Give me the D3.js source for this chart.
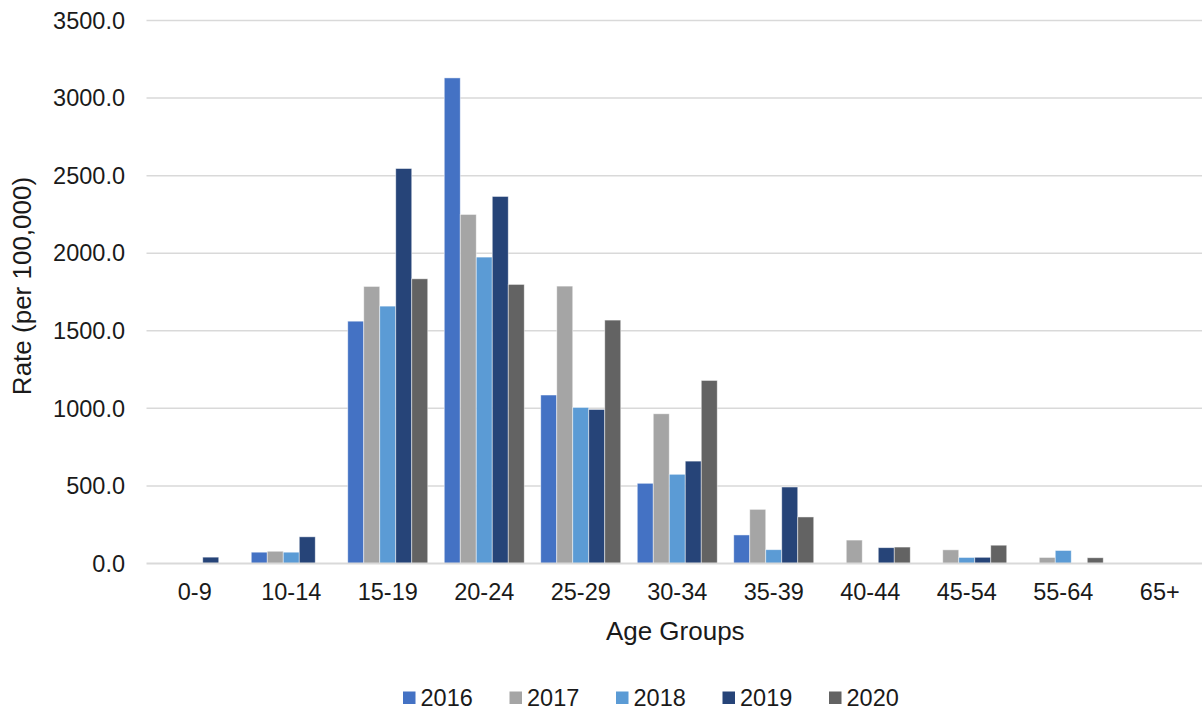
<!DOCTYPE html>
<html>
<head>
<meta charset="utf-8">
<script src="https://cdn.jsdelivr.net/npm/d3@7"></script>
<style>
  html, body { margin: 0; padding: 0; background: #fff; }
  svg { display: block; font-family: "Liberation Sans", Arial, sans-serif; }
</style>
</head>
<body>
<svg id="chart" width="1202" height="710"></svg>
<script>
const categories = ["0-9", "10-14", "15-19", "20-24", "25-29", "30-34", "35-39", "40-44", "45-54", "55-64", "65+"];
const years = ["2016", "2017", "2018", "2019", "2020"];
const colors = ["#4472C4", "#A5A5A5", "#5B9BD5", "#264478", "#636363"];
const yTicks = [0, 500, 1000, 1500, 2000, 2500, 3000, 3500];

const values2016 = [null, 73, 1562, 3130, 1086, 517, 184, null, null, null, null];
const values2017 = [null, 79, 1786, 2250, 1788, 965, 349, 151, 88, 39, null];
const values2018 = [null, 73, 1659, 1975, 1006, 575, 89, null, 39, 84, null];
const values2019 = [41, 172, 2546, 2366, 993, 660, 493, 102, 40, null, null];
const values2020 = [null, null, 1835, 1799, 1569, 1180, 300, 106, 118, 37, null];
const series = [values2016, values2017, values2018, values2019, values2020];

(function () {
const svg = d3.select("#chart");
const pLeft = 146.5, pRight = 1208, pTop = 20.5, pBottom = 563.5;

const x = d3.scaleBand().domain(categories).range([pLeft, pRight]).padding(0);
const bw = x.bandwidth();
const x1 = d3.scaleBand().domain(years).range([bw * 0.0855, bw * 0.9145]).padding(0);
const y = d3.scaleLinear().domain([0, 3500]).range([pBottom, pTop]);

// gridlines
svg.append("g").selectAll("line").data(yTicks.filter(t => t > 0)).join("line")
  .attr("x1", pLeft).attr("x2", 1202)
  .attr("y1", d => y(d)).attr("y2", d => y(d))
  .attr("stroke", "#d9d9d9").attr("stroke-width", 1.5);

// y tick labels
svg.append("g").selectAll("text").data(yTicks).join("text")
  .attr("x", 125).attr("y", d => y(d))
  .attr("dy", "0.35em")
  .attr("text-anchor", "end")
  .attr("font-size", 23.5)
  .attr("fill", "#1a1a1a")
  .text(d => d3.format(".1f")(d));

// bars
const barData = [];
categories.forEach((c, i) => {
  years.forEach((yr, j) => {
    const v = series[j][i];
    if (v !== null && v !== undefined) barData.push({ c, yr, v, color: colors[j] });
  });
});
svg.append("g").selectAll("rect").data(barData).join("rect")
  .attr("x", d => x(d.c) + x1(d.yr))
  .attr("width", x1.bandwidth())
  .attr("y", d => y(d.v))
  .attr("height", d => y(0) - y(d.v))
  .attr("fill", d => d.color)
  .attr("stroke", "#ffffff").attr("stroke-opacity", 0.6).attr("stroke-width", 0.8);

// baseline
svg.append("line")
  .attr("x1", pLeft).attr("x2", 1202)
  .attr("y1", y(0)).attr("y2", y(0))
  .attr("stroke", "#d9d9d9").attr("stroke-width", 2);

// x category labels
svg.append("g").selectAll("text").data(categories).join("text")
  .attr("x", d => x(d) + bw / 2).attr("y", 592)
  .attr("dy", "0.35em")
  .attr("text-anchor", "middle")
  .attr("font-size", 23.5)
  .attr("fill", "#1a1a1a")
  .text(d => d);

// axis titles
svg.append("text")
  .attr("x", (pLeft + pRight) / 2 - 2).attr("y", 631)
  .attr("dy", "0.35em")
  .attr("text-anchor", "middle")
  .attr("font-size", 26)
  .attr("fill", "#1a1a1a")
  .text("Age Groups");

svg.append("text")
  .attr("transform", "translate(22,286) rotate(-90)")
  .attr("dy", "0.35em")
  .attr("text-anchor", "middle")
  .attr("font-size", 26)
  .attr("fill", "#1a1a1a")
  .text("Rate (per 100,000)");

// legend
const legend = svg.append("g").selectAll("g").data(years).join("g")
  .attr("transform", (d, i) => `translate(${403 + i * 106.5},698)`);
legend.append("rect")
  .attr("x", 0).attr("y", -6.5).attr("width", 12.5).attr("height", 12.5)
  .attr("fill", (d, i) => colors[i]);
legend.append("text")
  .attr("x", 17.5).attr("y", 0).attr("dy", "0.35em")
  .attr("font-size", 23.5)
  .attr("fill", "#1a1a1a")
  .text(d => d);
})();
</script>
</body>
</html>
